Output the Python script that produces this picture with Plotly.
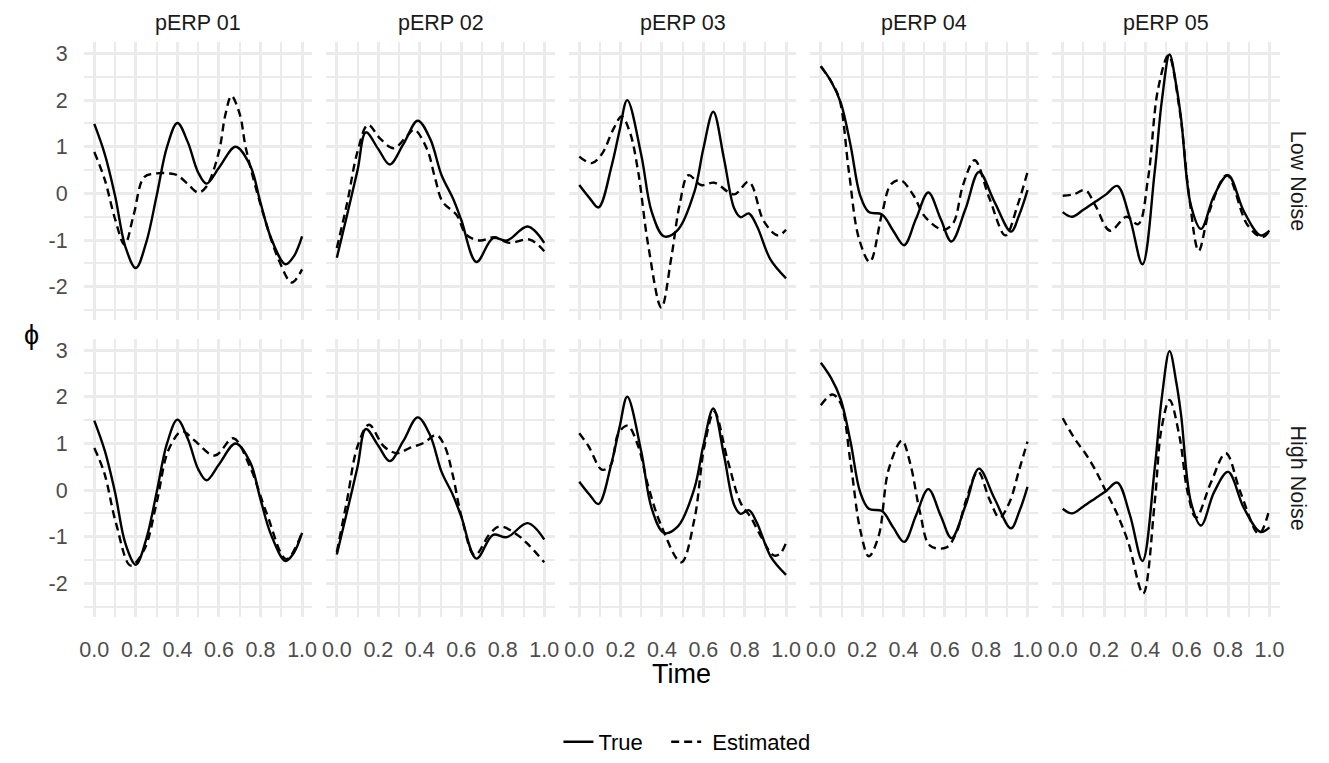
import plotly.graph_objects as go

# ---------------- data ----------------
panel_names = ["pERP 01", "pERP 02", "pERP 03", "pERP 04", "pERP 05"]
row_names = ["Low Noise", "High Noise"]
x_ticks = [0.0, 0.2, 0.4, 0.6, 0.8, 1.0]
y_ticks = [-2, -1, 0, 1, 2, 3]

# True curves (same in both noise rows)
t_true_01 = [0, 0.05, 0.1, 0.15, 0.2, 0.25, 0.3, 0.35, 0.4, 0.45, 0.5, 0.54, 0.6, 0.68, 0.75, 0.8, 0.85, 0.92, 0.96, 1.0]
y_true_01 = [1.49, 0.85, -0.05, -1.15, -1.60, -1.05, -0.05, 1.0, 1.51, 1.1, 0.45, 0.21, 0.55, 1.0, 0.6, -0.2, -0.95, -1.52, -1.35, -0.92]

t_true_02 = [0, 0.05, 0.1, 0.14, 0.2, 0.255, 0.32, 0.39, 0.45, 0.505, 0.56, 0.6, 0.673, 0.753, 0.82, 0.92, 1.0]
y_true_02 = [-1.38, -0.45, 0.5, 1.31, 0.95, 0.62, 1.05, 1.56, 1.17, 0.39, -0.11, -0.57, -1.47, -0.96, -1.01, -0.71, -1.06]

t_true_03 = [0, 0.05, 0.093, 0.157, 0.195, 0.232, 0.3, 0.35, 0.41, 0.477, 0.557, 0.6, 0.648, 0.7, 0.749, 0.78, 0.82, 0.86, 0.925, 1.0]
y_true_03 = [0.18, -0.1, -0.30, 0.60, 1.35, 2.0, 0.82, -0.39, -0.92, -0.78, 0.04, 0.96, 1.75, 0.74, -0.32, -0.51, -0.43, -0.71, -1.42, -1.82]

t_true_04 = [0, 0.05, 0.096, 0.144, 0.19, 0.232, 0.296, 0.35, 0.403, 0.46, 0.52, 0.58, 0.632, 0.7, 0.765, 0.84, 0.92, 0.96, 1.0]
y_true_04 = [2.73, 2.4, 1.95, 1.03, -0.04, -0.40, -0.45, -0.8, -1.11, -0.55, 0.02, -0.55, -1.03, -0.33, 0.46, -0.18, -0.82, -0.46, 0.07]

t_true_05 = [0, 0.045, 0.1, 0.157, 0.21, 0.264, 0.325, 0.386, 0.445, 0.48, 0.517, 0.55, 0.573, 0.62, 0.669, 0.733, 0.80, 0.877, 0.957, 1.0]
y_true_05 = [-0.40, -0.50, -0.35, -0.18, -0.02, 0.16, -0.53, -1.52, 0.46, 2.0, 2.98, 2.3, 1.6, -0.25, -0.76, -0.04, 0.39, -0.39, -0.90, -0.80]

# Estimated curves, low noise
t_low_01 = [0, 0.05, 0.1, 0.146, 0.19, 0.24, 0.3, 0.36, 0.4, 0.45, 0.5, 0.54, 0.6, 0.63, 0.66, 0.7, 0.73, 0.81, 0.89, 0.95, 1.0]
y_low_01 = [0.89, 0.3, -0.55, -1.10, -0.45, 0.35, 0.43, 0.43, 0.39, 0.2, 0.02, 0.15, 0.9, 1.67, 2.09, 1.7, 0.96, -0.39, -1.45, -1.91, -1.63]

t_low_02 = [0, 0.05, 0.1, 0.15, 0.21, 0.274, 0.34, 0.373, 0.434, 0.474, 0.51, 0.577, 0.625, 0.69, 0.76, 0.83, 0.93, 1.0]
y_low_02 = [-1.17, -0.2, 0.9, 1.47, 1.17, 0.97, 1.24, 1.37, 0.96, 0.32, -0.18, -0.46, -0.89, -1.01, -0.94, -1.06, -0.99, -1.24]

t_low_03 = [0, 0.06, 0.11, 0.165, 0.205, 0.245, 0.285, 0.333, 0.397, 0.445, 0.485, 0.528, 0.589, 0.653, 0.749, 0.82, 0.893, 0.96, 1.0]
y_low_03 = [0.79, 0.65, 0.85, 1.38, 1.65, 1.31, 0.46, -1.10, -2.45, -1.38, -0.25, 0.39, 0.18, 0.23, -0.02, 0.25, -0.60, -0.90, -0.78]

t_low_04 = [0, 0.05, 0.09, 0.136, 0.184, 0.237, 0.296, 0.34, 0.387, 0.448, 0.504, 0.592, 0.64, 0.688, 0.744, 0.816, 0.893, 0.952, 1.0]
y_low_04 = [2.72, 2.4, 2.02, 0.46, -0.96, -1.47, -0.43, 0.2, 0.28, -0.04, -0.50, -0.78, -0.64, 0.18, 0.71, -0.11, -0.90, -0.25, 0.46]

t_low_05 = [0, 0.053, 0.109, 0.157, 0.229, 0.309, 0.365, 0.413, 0.461, 0.512, 0.565, 0.613, 0.658, 0.709, 0.794, 0.893, 0.965, 1.0]
y_low_05 = [-0.05, -0.02, 0.07, -0.25, -0.80, -0.50, -0.66, 0.32, 2.23, 2.96, 1.81, -0.11, -1.23, -0.39, 0.39, -0.67, -0.94, -0.80]

# Estimated curves, high noise
t_high_01 = [0, 0.048, 0.104, 0.175, 0.24, 0.3, 0.358, 0.422, 0.478, 0.58, 0.669, 0.748, 0.828, 0.924, 1.0]
y_high_01 = [0.90, 0.37, -0.70, -1.62, -1.28, -0.27, 0.87, 1.26, 1.08, 0.74, 1.11, 0.51, -0.48, -1.48, -0.91]

t_high_02 = [0, 0.05, 0.1, 0.155, 0.226, 0.29, 0.35, 0.418, 0.48, 0.52, 0.56, 0.6, 0.665, 0.737, 0.785, 0.864, 0.928, 1.0]
y_high_02 = [-1.33, -0.2, 0.94, 1.40, 0.94, 0.79, 0.90, 1.01, 1.18, 0.94, 0.30, -0.55, -1.40, -0.94, -0.78, -0.94, -1.19, -1.55]

t_high_03 = [0, 0.045, 0.109, 0.149, 0.19, 0.234, 0.285, 0.333, 0.397, 0.493, 0.557, 0.605, 0.653, 0.717, 0.78, 0.83, 0.877, 0.94, 0.97, 1.0]
y_high_03 = [1.22, 0.94, 0.44, 0.51, 1.22, 1.38, 0.94, 0.09, -0.77, -1.55, -0.62, 0.94, 1.68, 0.65, -0.27, -0.59, -0.98, -1.40, -1.37, -1.13]

t_high_04 = [0, 0.056, 0.096, 0.144, 0.19, 0.232, 0.28, 0.328, 0.392, 0.432, 0.48, 0.528, 0.608, 0.656, 0.704, 0.76, 0.816, 0.864, 0.912, 0.96, 1.0]
y_high_04 = [1.82, 2.05, 1.86, 0.58, -0.84, -1.42, -0.98, 0.44, 1.06, 0.58, -0.48, -1.19, -1.23, -0.91, -0.20, 0.40, -0.20, -0.59, -0.27, 0.44, 1.04]

t_high_05 = [0, 0.061, 0.109, 0.157, 0.205, 0.26, 0.317, 0.389, 0.445, 0.477, 0.517, 0.565, 0.605, 0.645, 0.717, 0.789, 0.861, 0.949, 1.0]
y_high_05 = [1.54, 1.08, 0.79, 0.44, 0.01, -0.48, -1.12, -2.22, -0.27, 1.29, 1.93, 1.15, -0.06, -0.59, 0.16, 0.79, -0.06, -0.94, -0.41]

true_series = [(t_true_01, y_true_01), (t_true_02, y_true_02), (t_true_03, y_true_03),
               (t_true_04, y_true_04), (t_true_05, y_true_05)]
est_series = [
    [(t_low_01, y_low_01), (t_low_02, y_low_02), (t_low_03, y_low_03), (t_low_04, y_low_04), (t_low_05, y_low_05)],
    [(t_high_01, y_high_01), (t_high_02, y_high_02), (t_high_03, y_high_03), (t_high_04, y_high_04), (t_high_05, y_high_05)],
]

# ---------------- layout geometry (pixels) ----------------
W, H = 1329, 763
col_px = [(79.5, 309.8), (323.9, 553.8), (568.2, 797.4), (811.6, 1040.7), (1055.3, 1284.4)]
row_px = [(42.2, 322.8), (341.2, 621.8)]
X_RANGE = [-0.05, 1.05]
Y_RANGE = [-2.72, 3.25]

GRID = "#EBEBEB"
FONT = "Liberation Sans, Arial, Helvetica, sans-serif"

fig = go.Figure()
layout = dict(
    width=W, height=H,
    margin=dict(l=0, r=0, t=0, b=0),
    paper_bgcolor="white", plot_bgcolor="white",
    font=dict(family=FONT, color="black"),
    showlegend=True,
    legend=dict(orientation="h", x=0.517, xanchor="center", y=1 - 748 / H, yanchor="middle",
                font=dict(size=22, color="black"), itemwidth=30, tracegroupgap=0,
                bgcolor="rgba(0,0,0,0)"),
)

annotations = []
idx = 0
for r in range(2):
    for c in range(5):
        idx += 1
        xa = "x" if idx == 1 else f"x{idx}"
        ya = "y" if idx == 1 else f"y{idx}"
        xkey = "xaxis" if idx == 1 else f"xaxis{idx}"
        ykey = "yaxis" if idx == 1 else f"yaxis{idx}"
        x0, x1 = col_px[c]
        y0, y1 = row_px[r]
        layout[xkey] = dict(
            domain=[x0 / W, x1 / W], range=X_RANGE, anchor=ya,
            tickmode="array", tickvals=x_ticks, ticktext=[f"{v:.1f}" for v in x_ticks],
            showticklabels=(r == 1), ticks="outside", ticklen=13, tickcolor="rgba(0,0,0,0)",
            tickfont=dict(size=21.5, color="#4D4D4D"),
            showgrid=True, gridcolor=GRID, gridwidth=2.5, zeroline=False, showline=False,
            minor=dict(tickvals=[0.1, 0.3, 0.5, 0.7, 0.9], showgrid=True, gridcolor=GRID, gridwidth=2.0, ticks=""),
        )
        layout[ykey] = dict(
            domain=[1 - y1 / H, 1 - y0 / H], range=Y_RANGE, anchor=xa,
            tickmode="array", tickvals=y_ticks, ticktext=[str(v) for v in y_ticks],
            showticklabels=(c == 0), ticks="outside", ticklen=11, tickcolor="rgba(0,0,0,0)",
            tickfont=dict(size=21.5, color="#4D4D4D"),
            showgrid=True, gridcolor=GRID, gridwidth=2.5, zeroline=False, showline=False,
            minor=dict(tickvals=[-2.5, -1.5, -0.5, 0.5, 1.5, 2.5], showgrid=True, gridcolor=GRID, gridwidth=2.0, ticks=""),
        )
        tt, ty = true_series[c]
        fig.add_trace(go.Scatter(
            x=tt, y=ty, mode="lines", xaxis=xa, yaxis=ya,
            line=dict(color="black", width=2.4, shape="spline", smoothing=1.0),
            name="True\u00a0\u00a0\u00a0", legendgroup="True", showlegend=(idx == 1),
        ))
        et, ey = est_series[r][c]
        fig.add_trace(go.Scatter(
            x=et, y=ey, mode="lines", xaxis=xa, yaxis=ya,
            line=dict(color="black", width=2.4, dash="8px,5px", shape="spline", smoothing=1.0),
            name="\u00a0Estimated", legendgroup="Estimated", showlegend=(idx == 1),
        ))

# strip labels (top)
for c in range(5):
    x0, x1 = col_px[c]
    annotations.append(dict(text=panel_names[c], x=(x0 + x1) / 2 / W, y=1 - 23 / H,
                            xref="paper", yref="paper", showarrow=False,
                            xanchor="center", yanchor="middle",
                            font=dict(size=21.5, color="#1A1A1A")))
# strip labels (right)
for r in range(2):
    y0, y1 = row_px[r]
    annotations.append(dict(text=row_names[r], x=1303 / W, y=1 - (y0 + y1) / 2 / H,
                            xref="paper", yref="paper", showarrow=False, textangle=90,
                            xanchor="center", yanchor="middle",
                            font=dict(size=21.5, color="#1A1A1A")))
# axis titles
annotations.append(dict(text="Time", x=(col_px[0][0] + col_px[-1][1]) / 2 / W, y=1 - 679 / H,
                        xref="paper", yref="paper", showarrow=False,
                        xanchor="center", yanchor="middle", font=dict(size=27, color="black")))
annotations.append(dict(text="ϕ", x=27 / W, y=1 - 338 / H,
                        xref="paper", yref="paper", showarrow=False,
                        xanchor="center", yanchor="middle", font=dict(size=27, color="black")))

layout["annotations"] = annotations
fig.update_layout(**layout)
fig.write_html("out.html")
